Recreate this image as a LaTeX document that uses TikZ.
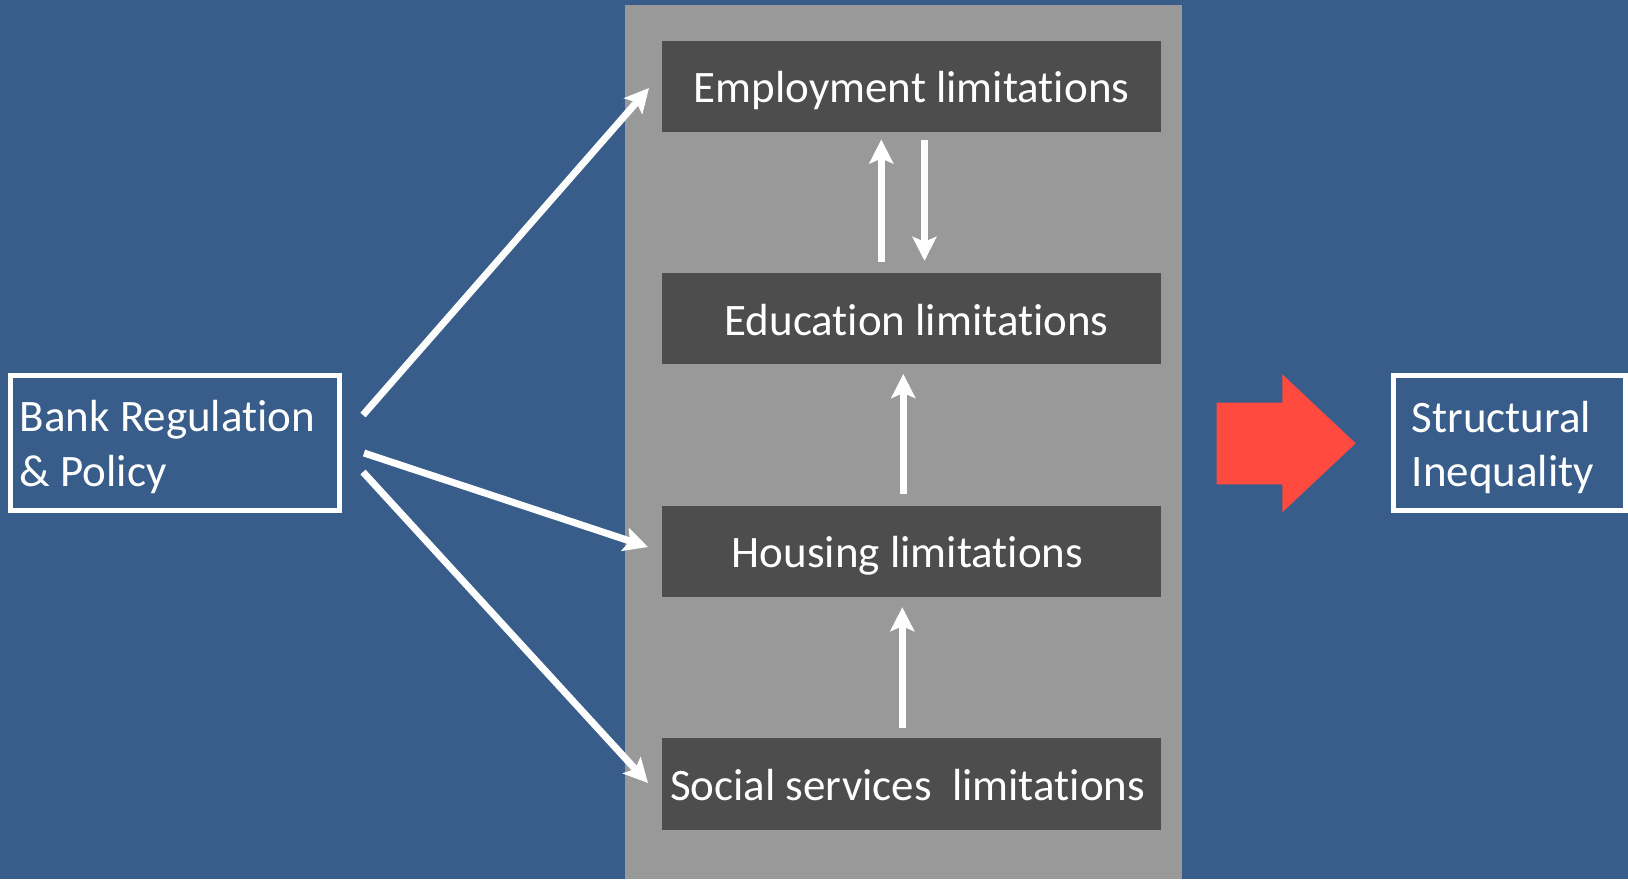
\documentclass[tikz,border=0pt]{standalone}
\usepackage{fontspec}
\setmainfont{Carlito}[Ligatures=NoCommon]
\usetikzlibrary{arrows.meta}
\definecolor{bgblue}{HTML}{385D8A}
\definecolor{panelgray}{HTML}{999999}
\definecolor{boxdark}{HTML}{4D4D4D}
\definecolor{redarrow}{HTML}{FF4A3F}
\begin{document}
\begin{tikzpicture}[x=1pt,y=-1pt,
  limbox/.style={fill=boxdark, minimum width=498.4pt, minimum height=91.4pt, inner sep=0pt, text=white,
    font=\fontsize{45}{55}\selectfont, text height=42pt, text depth=9pt},
  outbox/.style={draw=white, line width=5pt, inner sep=0pt},
  lbl/.style={text=white, font=\fontsize{45}{55}\selectfont, inner sep=0pt, anchor=base west},
  arr/.style={draw=white, line width=7pt, -{Stealth[length=24pt,width=24pt,inset=5pt]}}]
\fill[bgblue] (0,0) rectangle (1628,879);
\useasboundingbox (0,0) rectangle (1628,879);
\fill[panelgray] (625,5.2) rectangle (1181.6,879);

\node[limbox] (emp) at (911.6,86.2) {Employment limitations};
\node[limbox] (edu) at (911.6,318.7) {\hspace*{10pt}Education limitations};
\node[limbox] (hou) at (911.6,551.3) {Housing limitations\hspace*{8pt}};
\node[limbox] (soc) at (911.6,783.9) {Social services\ \ limitations\hspace*{8pt}};

\node[outbox, minimum width=328.5pt, minimum height=134.7pt] (bank) at (175.05,443.15) {};
\node[lbl] (bankA) at (19.5,431) {Bank Regulation};
\node[lbl] (bankB) at (19.5,486) {\& Policy};

\node[outbox, minimum width=232.3pt, minimum height=134.7pt] (struct) at (1509.35,443.15) {};
\node[lbl] (strA) at (1411.5,432.5) {Structural};
\node[lbl] (strB) at (1411.5,486.5) {Inequality};

\fill[redarrow] (1216.7,402.7) -- (1282.3,402.7) -- (1282.3,374.3) -- (1355.7,443.3)
  -- (1282.3,512.3) -- (1282.3,484.3) -- (1216.7,484.3) -- cycle;

\coordinate (b1) at (363,415);
\coordinate (t1) at (649,88);
\coordinate (b2) at (364,453);
\coordinate (t2) at (648,547);
\coordinate (b3) at (363,472);
\coordinate (t3) at (648,783);
\draw[arr] (b1) -- (t1);
\draw[arr] (b2) -- (t2);
\draw[arr] (b3) -- (t3);

\draw[arr, shorten <=11.3pt, shorten >=7.4pt] ([xshift=-30.3pt]edu.north) -- ([xshift=-30.3pt]emp.south);
\draw[arr, shorten <=7.4pt, shorten >=12pt] ([xshift=12.9pt]emp.south) -- ([xshift=12.9pt]edu.north);
\draw[arr, shorten <=11.6pt, shorten >=9.4pt] ([xshift=-8.3pt]hou.north) -- ([xshift=-8.3pt]edu.south);
\draw[arr, shorten <=10.5pt, shorten >=10pt] ([xshift=-9.3pt]soc.north) -- ([xshift=-9.3pt]hou.south);
\end{tikzpicture}
\end{document}
